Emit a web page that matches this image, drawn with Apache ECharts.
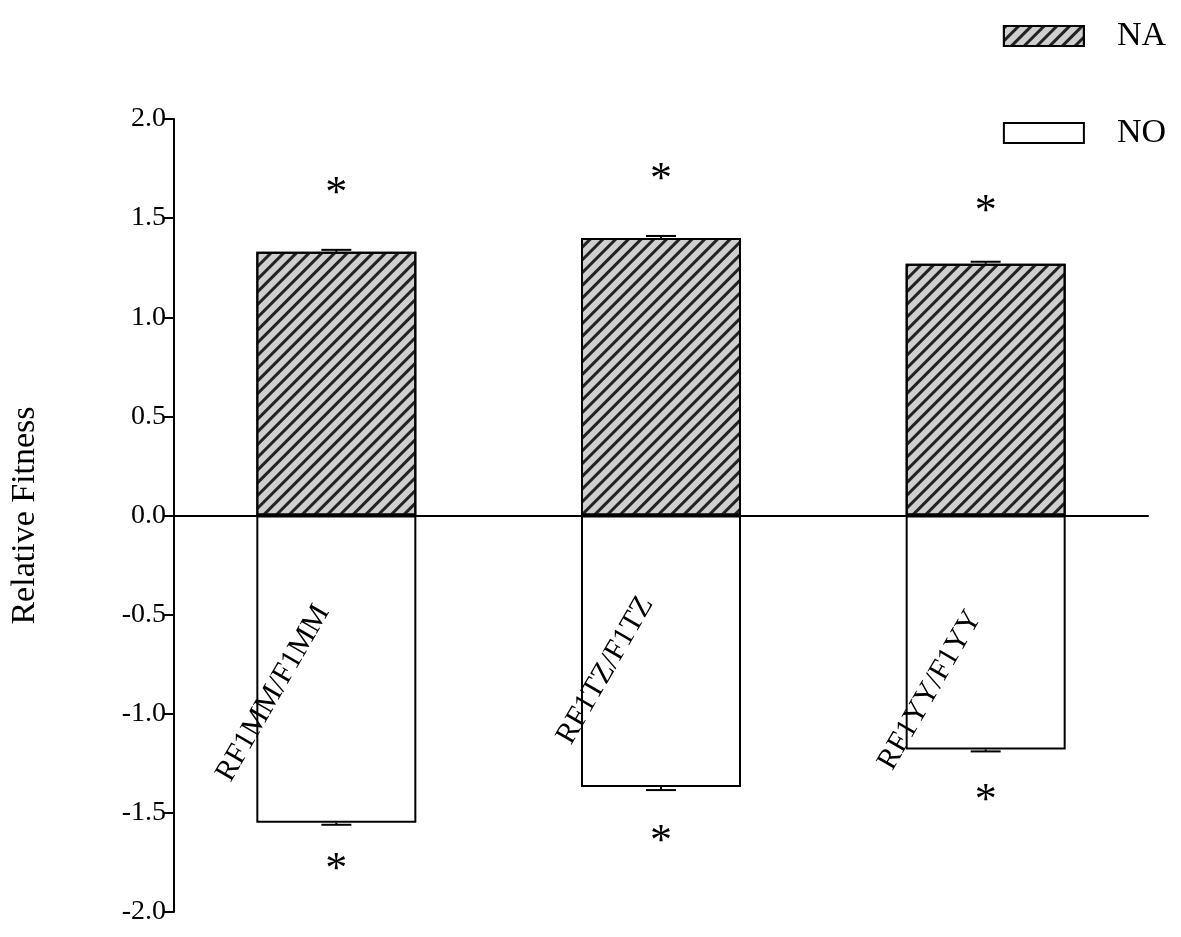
<!DOCTYPE html>
<html>
<head>
<meta charset="utf-8">
<script src="https://cdn.jsdelivr.net/npm/echarts@6/dist/echarts.min.js"></script>
<style>html,body{margin:0;padding:0;background:#fff}#main{width:1181px;height:937px}</style>
</head>
<body>
<div id="main"></div>
<script>
// relative fitness data
var categories = ['RF1MM/F1MM', 'RF1TZ/F1TZ', 'RF1YY/F1YY'];
var naValues = [1.33, 1.40, 1.27];
var noValues = [-1.55, -1.37, -1.18];
var naErr = [0.01, 0.01, 0.01];
var noErr = [0.01, 0.015, 0.01];
var naStars = [1.62, 1.69, 1.53];
var noStars = [-1.79, -1.65, -1.44];
var labelY = [-0.90, -0.78, -0.88];

var font = 'Liberation Serif';

var errBar = function (vals, errs) {
  return {
    type: 'custom',
    silent: true,
    z: 1,
    renderItem: function (params, api) {
      var i = api.value(0);
      var v = api.value(1);
      var p0 = api.coord([i, v]);
      var p1 = api.coord([i, v + api.value(2)]);
      return {
        type: 'group',
        children: [
          { type: 'line', shape: { x1: p0[0], y1: p0[1], x2: p1[0], y2: p1[1] }, style: { stroke: '#000', lineWidth: 2 } },
          { type: 'line', shape: { x1: p1[0] - 15, y1: p1[1], x2: p1[0] + 15, y2: p1[1] }, style: { stroke: '#000', lineWidth: 2 } }
        ]
      };
    },
    data: vals.map(function (v, i) { return [i, v, v > 0 ? errs[i] : -errs[i]]; })
  };
};

var starSeries = function (vals) {
  return {
    type: 'scatter',
    symbolSize: 0,
    silent: true,
    itemStyle: { opacity: 1 },
    label: { show: true, position: 'inside', formatter: '*', fontSize: 44, fontFamily: font, color: '#000' },
    data: vals.map(function (v, i) { return [i, v]; })
  };
};

var labelOffsets = [[-31, -55], [-28, -48], [-28, -48]];

var chart = echarts.init(document.getElementById('main'));
chart.setOption({
  animation: false,
  textStyle: { fontFamily: font },
  legend: {
    data: ['NA', 'NO'],
    orient: 'vertical',
    right: 10,
    top: 14,
    icon: 'rect',
    itemWidth: 80,
    itemHeight: 20,
    itemGap: 63,
    textStyle: { fontSize: 34, fontFamily: font, color: '#000', padding: [0, 0, 0, 28] }
  },
  grid: { left: 172, right: 33, top: 119, bottom: 25 },
  xAxis: {
    type: 'category',
    data: categories,
    axisLine: { onZero: true, lineStyle: { color: '#000', width: 2 } },
    axisTick: { show: false },
    axisLabel: { show: false }
  },
  yAxis: {
    type: 'value',
    min: -2, max: 2, interval: 0.5,
    name: 'Relative Fitness',
    nameLocation: 'middle',
    nameGap: 132,
    nameTextStyle: { fontSize: 34, fontFamily: font, color: '#000' },
    axisLine: { show: true, onZero: false, lineStyle: { color: '#000', width: 2 } },
    axisTick: { show: true, length: 10, lineStyle: { color: '#000', width: 2 } },
    axisLabel: { fontSize: 28, fontFamily: font, color: '#000', formatter: function (v) { return v.toFixed(1); } },
    splitLine: { show: false }
  },
  series: [
    {
      name: 'NA', type: 'bar', stack: 'a', barWidth: 160, z: 2,
      itemStyle: {
        color: '#cfcfcf', borderColor: '#000', borderWidth: 2,
        decal: { symbol: 'rect', symbolSize: 1, dashArrayX: [1, 0], dashArrayY: [3, 6], rotation: -Math.PI / 4, color: '#222' }
      },
      data: naValues
    },
    {
      name: 'NO', type: 'bar', stack: 'a', barWidth: 160, z: 2,
      itemStyle: { color: '#fff', borderColor: '#000', borderWidth: 2 },
      data: noValues
    },
    errBar(naValues, naErr),
    errBar(noValues, noErr),
    starSeries(naStars),
    starSeries(noStars),
    {
      type: 'scatter', symbolSize: 0, silent: true, z: 5,
      itemStyle: { opacity: 1 },
      data: labelY.map(function (v, i) {
        return {
          value: [i, v],
          label: {
            show: true, position: 'inside', rotate: 60, fontSize: 30, fontFamily: font, color: '#000',
            formatter: categories[i],
            offset: labelOffsets[i]
          }
        };
      })
    }
  ]
});
</script>
</body>
</html>
